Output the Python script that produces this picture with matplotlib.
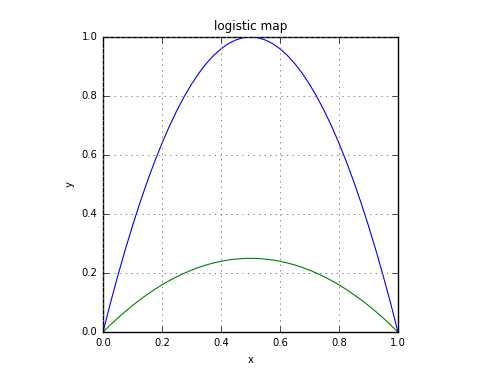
import matplotlib
matplotlib.use("Agg")
import matplotlib.pyplot as plt

plt.style.use("classic")
plt.rcParams["font.size"] = 7.2

# values, x step 0.025
x = [0.0, 0.025, 0.05, 0.075, 0.1, 0.125, 0.15, 0.175, 0.2, 0.225, 0.25,
     0.275, 0.3, 0.325, 0.35, 0.375, 0.4, 0.425, 0.45, 0.475, 0.5,
     0.525, 0.55, 0.575, 0.6, 0.625, 0.65, 0.675, 0.7, 0.725, 0.75,
     0.775, 0.8, 0.825, 0.85, 0.875, 0.9, 0.925, 0.95, 0.975, 1.0]
y_r4 = [0.0, 0.0975, 0.19, 0.2775, 0.36, 0.4375, 0.51, 0.5775, 0.64, 0.6975, 0.75,
        0.7975, 0.84, 0.8775, 0.91, 0.9375, 0.96, 0.9775, 0.99, 0.9975, 1.0,
        0.9975, 0.99, 0.9775, 0.96, 0.9375, 0.91, 0.8775, 0.84, 0.7975, 0.75,
        0.6975, 0.64, 0.5775, 0.51, 0.4375, 0.36, 0.2775, 0.19, 0.0975, 0.0]
y_r1 = [0.0, 0.0244, 0.0475, 0.0694, 0.09, 0.1094, 0.1275, 0.1444, 0.16, 0.1744, 0.1875,
        0.1994, 0.21, 0.2194, 0.2275, 0.2344, 0.24, 0.2444, 0.2475, 0.2494, 0.25,
        0.2494, 0.2475, 0.2444, 0.24, 0.2344, 0.2275, 0.2194, 0.21, 0.1994, 0.1875,
        0.1744, 0.16, 0.1444, 0.1275, 0.1094, 0.09, 0.0694, 0.0475, 0.0244, 0.0]

fig = plt.figure(figsize=(4.89, 3.69), dpi=100, facecolor="white")
ax = fig.add_axes([0.2106, 0.100, 0.6033, 0.7997])
ax.plot(x, y_r4, "b-", lw=0.8)
ax.plot(x, y_r1, "g-", lw=0.8)
ax.set_xlim(0, 1)
ax.set_ylim(0, 1)
ax.grid(True, color="0.45", linestyle=":", linewidth=0.6)
ax.set_xlabel("x")
ax.set_ylabel("y")
ax.set_title("logistic map")

fig.savefig("out.png", dpi=100, facecolor="white")
